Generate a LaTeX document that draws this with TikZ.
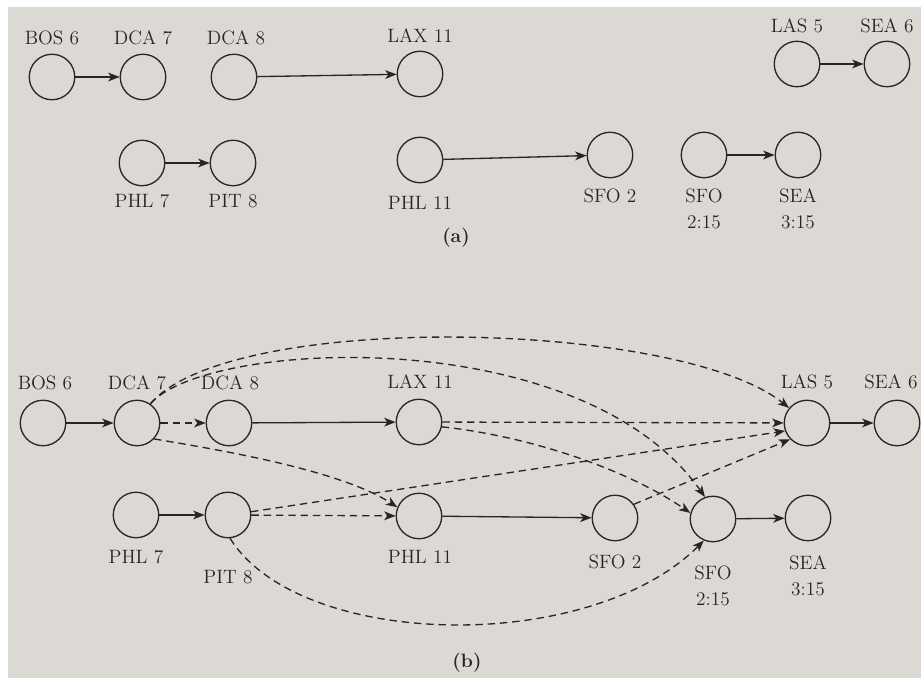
\documentclass[tikz,border=0pt]{standalone}
\usepackage{tikz}
\usetikzlibrary{arrows.meta,positioning}
\definecolor{ink}{RGB}{38,38,38}
\definecolor{page}{RGB}{220,217,213}

\begin{document}
\begin{tikzpicture}[x=0.02cm,y=-0.02cm,
  station/.style={draw=ink,circle,minimum size=0.91cm,inner sep=0pt,line width=0.75pt},
  leg/.style={-{Stealth[length=6.5pt,width=5pt,inset=1.8pt]},line width=0.75pt,draw=ink},
  hop/.style={leg,dash pattern=on 4.2pt off 2.8pt},
  city/.style={font=\fontsize{11}{15}\selectfont,text=ink,align=center,inner sep=0pt}
  ]
\useasboundingbox (0,0) rectangle (921,678);
\fill[white] (0,0) rectangle (921,678);
\fill[page] (8,7) rectangle (921,678);

% (a): the flights alone
\node[station] (aBOS)    at (52,77)  {};
\node[station] (aDCA7)   at (143,77) {};
\node[station] (aDCA8)   at (234,77) {};
\node[station] (aLAX)    at (420,74) {};
\node[station] (aLAS)    at (797,64) {};
\node[station] (aSEA6)   at (887,64) {};
\node[station] (aPHL7)   at (142,163) {};
\node[station] (aPIT)    at (233,163) {};
\node[station] (aPHL11)  at (420,160) {};
\node[station] (aSFO2)   at (610,155) {};
\node[station] (aSFO215) at (704,155) {};
\node[station] (aSEA315) at (798,155) {};

\node[city] (aBOSt)    at (52,38)   {BOS 6};
\node[city] (aDCA7t)   at (143,38)  {DCA 7};
\node[city] (aDCA8t)   at (236,38)  {DCA 8};
\node[city] (aLAXt)    at (420,36)  {LAX 11};
\node[city] (aLASt)    at (797,26)  {LAS 5};
\node[city] (aSEA6t)   at (887,26)  {SEA 6};
\node[city] (aPHL7t)   at (142,201) {PHL 7};
\node[city] (aPITt)    at (233,201) {PIT 8};
\node[city] (aPHL11t)  at (420,203) {PHL 11};
\node[city] (aSFO2t)   at (610,196) {SFO 2};
\node[city] (aSFO215t) at (704,209) {SFO\\2:15};
\node[city] (aSEA315t) at (798,209) {SEA\\3:15};
\node[city,font=\fontsize{11}{15}\selectfont\bfseries] (acap) at (456,238) {(a)};

\draw[leg] (aBOS) -- (aDCA7);
\draw[leg] (aDCA8) -- (aLAX);
\draw[leg] (aLAS) -- (aSEA6);
\draw[leg] (aPHL7) -- (aPIT);
\draw[leg] (aPHL11) -- (aSFO2);
\draw[leg] (aSFO215) -- (aSEA315);

% (b): flights plus the possible plane moves
\node[station] (bBOS)    at (43,423)  {};
\node[station] (bDCA7)   at (137,423) {};
\node[station] (bDCA8)   at (229,423) {};
\node[station] (bLAX)    at (419,422) {};
\node[station] (bLAS)    at (807,423) {};
\node[station] (bSEA6)   at (897,423) {};
\node[station] (bPHL7)   at (136,515) {};
\node[station] (bPIT)    at (228,515) {};
\node[station] (bPHL11)  at (419,516) {};
\node[station] (bSFO2)   at (615,518) {};
\node[station] (bSFO215) at (713,519) {};
\node[station] (bSEA315) at (808,518) {};

\node[city] (bBOSt)    at (45,383)  {BOS 6};
\node[city] (bDCA7t)   at (137,383) {DCA 7};
\node[city] (bDCA8t)   at (230,383) {DCA 8};
\node[city] (bLAXt)    at (420,382) {LAX 11};
\node[city] (bLASt)    at (807,382) {LAS 5};
\node[city] (bSEA6t)   at (891,382) {SEA 6};
\node[city] (bPHL7t)   at (136,557) {PHL 7};
\node[city] (bPITt)    at (228,577) {PIT 8};
\node[city] (bPHL11t)  at (420,557) {PHL 11};
\node[city] (bSFO2t)   at (615,562) {SFO 2};
\node[city] (bSFO215t) at (713,586) {SFO\\2:15};
\node[city] (bSEA315t) at (808,576) {SEA\\3:15};
\node[city,font=\fontsize{11}{15}\selectfont\bfseries] (bcap) at (467,663) {(b)};

\draw[leg] (bBOS) -- (bDCA7);
\draw[leg] (bDCA8) -- (bLAX);
\draw[leg] (bLAS) -- (bSEA6);
\draw[leg] (bPHL7) -- (bPIT);
\draw[leg] (bPHL11) -- (bSFO2);
\draw[leg] (bSFO215) -- (bSEA315);

% dashed moves
\draw[hop] (bDCA7) -- (bDCA8);
\draw[hop] (bDCA7.55) .. controls (230,310) and (680,320) .. (bLAS.140);
\draw[hop] (bDCA7.55) .. controls (205,340) and (580,320) .. (bSFO215.110);
\draw[hop] (bDCA7.-43) .. controls (220,450) and (340,470) .. (bPHL11.158);
\draw[hop] (bLAX) -- (bLAS);
\draw[hop] (bLAX.-12) .. controls (520,435) and (620,465) .. (bSFO215.165);
\draw[hop] (bPIT) -- (bPHL11);
\draw[hop] (bPIT.8) -- (bLAS.200);
\draw[hop] (bSFO2.36) -- (bLAS.224);
\draw[hop] (bPIT.-85) .. controls (300,650) and (590,655) .. (bSFO215.247);

\end{tikzpicture}
\end{document}
